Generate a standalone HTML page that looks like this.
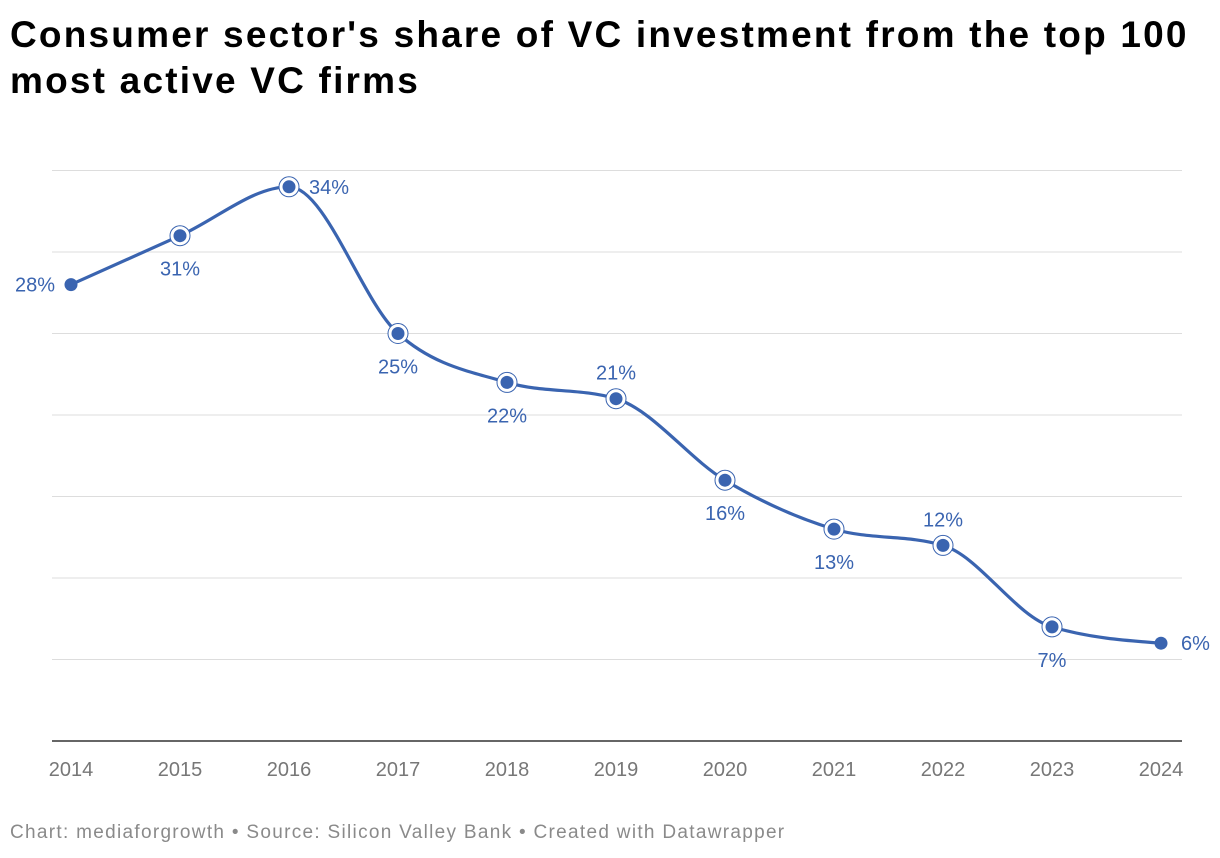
<!DOCTYPE html>
<html><head><meta charset="utf-8">
<style>
body{margin:0;background:#fff;width:1220px;height:858px;overflow:hidden;font-family:"Liberation Sans",sans-serif;}
h1{position:absolute;left:10px;top:12px;margin:0;font-size:37px;line-height:46px;font-weight:bold;color:#000;letter-spacing:2.2px;white-space:nowrap;}
#foot{position:absolute;left:10px;top:822px;font-size:19px;color:#8a8a8a;letter-spacing:1.3px;white-space:nowrap;}
svg{position:absolute;left:0;top:0;}
</style></head><body>
<h1>Consumer sector's share of VC investment from the top 100<br>most active VC firms</h1>
<svg id="chart" width="1220" height="858"></svg>
<div id="foot">Chart: mediaforgrowth • Source: Silicon Valley Bank • Created with Datawrapper</div>
<script>
const years=[2014,2015,2016,2017,2018,2019,2020,2021,2022,2023,2024];
const values=[28,31,34,25,22,21,16,13,12,7,6];
const labelPos=["left","below","right","below","below","above","below","below","above","below","right"];
const gridTicks=[0,5,10,15,20,25,30,35];
const NS="http://www.w3.org/2000/svg";
const svg=document.getElementById('chart');
const x=i=>71+i*109;
const y=v=>741-v*16.3;
function mk(t,a){const e=document.createElementNS(NS,t);for(const k in a)e.setAttribute(k,a[k]);svg.appendChild(e);return e;}
gridTicks.forEach(t=>{
  const l=mk('line',{x1:52,x2:1182,y1:y(t),y2:y(t),stroke:t===0?'#333':'#dddddd','stroke-width':t===0?1.5:1});
  
  
});
years.forEach((yr,i)=>{
  const t=mk('text',{x:x(i),y:776,'text-anchor':'middle','font-size':20,fill:'#777'});
  t.textContent=yr;
  
  
});
const px=values.map((v,i)=>x(i)),py=values.map(v=>y(v));
const n=px.length,m=[],s=[];
for(let i=0;i<n-1;i++)s.push((py[i+1]-py[i])/(px[i+1]-px[i]));
for(let i=0;i<n;i++){
  if(i===0||i===n-1){m.push(0);continue;}
  const s0=s[i-1],s1=s[i],h0=px[i]-px[i-1],h1=px[i+1]-px[i];
  const p=(s0*h1+s1*h0)/(h0+h1);
  m.push((Math.sign(s0)+Math.sign(s1))*Math.min(Math.abs(s0),Math.abs(s1),0.5*Math.abs(p))||0);
}
m[0]=(3*s[0]-m[1])/2; m[n-1]=(3*s[n-2]-m[n-2])/2;
let d='M'+px[0]+','+py[0];
for(let i=0;i<n-1;i++){const h=(px[i+1]-px[i])/3;
  d+=' C'+(px[i]+h)+','+(py[i]+h*m[i])+' '+(px[i+1]-h)+','+(py[i+1]-h*m[i+1])+' '+px[i+1]+','+py[i+1];}
const line=mk('path',{d:d,fill:'none',stroke:'#3a64b0','stroke-width':3.2});


values.forEach((v,i)=>{
  if(i>0&&i<n-1){const r=mk('circle',{cx:x(i),cy:y(v),r:10,fill:'#fff',stroke:'#3a64b0','stroke-width':1});
    
    }
  const c=mk('circle',{cx:x(i),cy:y(v),r:6.5,fill:'#3a64b0'});
  
  
  const p=labelPos[i];let lx=x(i),ly=y(v)+7,anchor='middle';
  if(p==='left'){lx=x(i)-16;anchor='end';}
  else if(p==='right'){lx=x(i)+20;anchor='start';}
  else if(p==='below'){ly=y(v)+40;}
  else {ly=y(v)-19;}
  const t=mk('text',{x:lx,y:ly,'text-anchor':anchor,'font-size':20,fill:'#3a64b0'});
  t.textContent=v+'%';
  
  
});
</script>
</body></html>
